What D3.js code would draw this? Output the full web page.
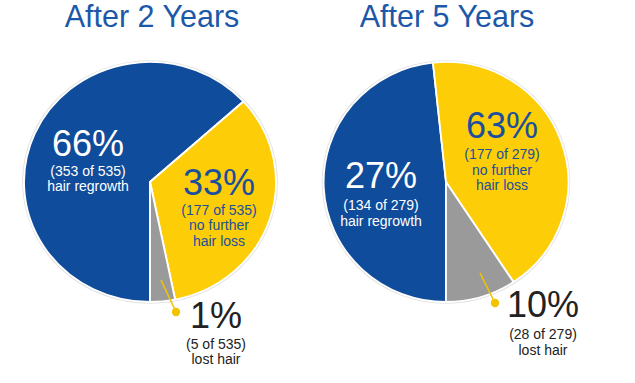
<!DOCTYPE html>
<html>
<head>
<meta charset="utf-8">
<script src="https://cdn.jsdelivr.net/npm/d3@7/dist/d3.min.js"></script>
<style>
  html, body { margin: 0; padding: 0; background: #fff; }
  svg { display: block; font-family: "Liberation Sans", Arial, Helvetica, sans-serif; }
</style>
</head>
<body>
<svg id="chart" width="635" height="383"></svg>
<script>
// ---- data ----
const panelTitles = ["After 2 Years", "After 5 Years"];
const categories = ["hair regrowth", "no further hair loss", "lost hair"];
const colors = ["#0F4C9B", "#FDCD07", "#9A9A9A"];

// labelled results
const percents2 = [66, 33, 1];
const counts2 = [353, 177, 5];
const total2 = 535;
const percents5 = [27, 63, 10];
const counts5 = [134, 177, 28];
const total5 = 279;

// slice sizes as drawn in the picture (%)
const slices2 = [63.3, 33.5, 3.2];
const slices5 = [48.3, 42.4, 9.3];

// ---- layout ----
const svg = d3.select("#chart");
const R = 120;
const panels = [
  { title: panelTitles[0], slices: slices2, percents: percents2, counts: counts2, total: total2,
    cx: 150, cy: 182, sx: 1.05, titleX: 152,
    labels: [
      { x: 88, y: 155.5, sub: 175.5, fill: "#fff" },
      { x: 219, y: 195, sub: 214.5, fill: "#1B4F9E" },
      { x: 216, y: 328, sub: 348.5, fill: "#222" }
    ],
    leader: [[161, 280], [176, 312]] },
  { title: panelTitles[1], slices: slices5, percents: percents5, counts: counts5, total: total5,
    cx: 446, cy: 182, sx: 1.02, titleX: 447,
    labels: [
      { x: 381, y: 188, sub: 210, fill: "#fff" },
      { x: 502, y: 138, sub: 159, fill: "#1B4F9E" },
      { x: 543, y: 317, sub: 339, fill: "#222" }
    ],
    leader: [[480, 273], [495, 303]] }
];

const pie = d3.pie().sort(null).value(d => d).startAngle(Math.PI).endAngle(3 * Math.PI);
const arc = d3.arc().innerRadius(0).outerRadius(R);

function subLines(i, p) {
  const cnt = `(${p.counts[i]} of ${p.total})`;
  if (i === 1) return [cnt, "no further", "hair loss"];
  return [cnt, categories[i]];
}

panels.forEach(p => {
  // title
  svg.append("text")
    .attr("x", p.titleX).attr("y", 27)
    .attr("text-anchor", "middle")
    .attr("font-size", 30.5)
    .attr("fill", "#1C58A8")
    .text(p.title);

  const g = svg.append("g")
    .attr("transform", `translate(${p.cx},${p.cy}) scale(${p.sx},1)`);

  g.append("circle").attr("r", R + 0.8)
    .attr("fill", "none").attr("stroke", "#e2e2e2").attr("stroke-width", 2);

  g.selectAll("path.slice")
    .data(pie(p.slices))
    .join("path")
    .attr("class", "slice")
    .attr("d", arc)
    .attr("fill", (d, i) => colors[i])
    .attr("stroke", "#fff")
    .attr("stroke-width", 1.8)
    .attr("stroke-linejoin", "round");

  // leader line for the small slice
  svg.append("line")
    .attr("x1", p.leader[0][0]).attr("y1", p.leader[0][1])
    .attr("x2", p.leader[1][0]).attr("y2", p.leader[1][1])
    .attr("stroke", "#F2C300").attr("stroke-width", 1.6);
  svg.append("circle")
    .attr("cx", p.leader[1][0]).attr("cy", p.leader[1][1]).attr("r", 4.2)
    .attr("fill", "#F2C300");

  // labels
  p.labels.forEach((L, i) => {
    svg.append("text")
      .attr("x", L.x).attr("y", L.y)
      .attr("text-anchor", "middle")
      .attr("font-size", 36)
      .attr("fill", L.fill)
      .text(p.percents[i] + "%");
    subLines(i, p).forEach((s, j) => {
      svg.append("text")
        .attr("x", L.x).attr("y", L.sub + j * 15.5)
        .attr("text-anchor", "middle")
        .attr("font-size", 14)
        .attr("fill", L.fill)
        .text(s);
    });
  });
});
</script>
</body>
</html>
